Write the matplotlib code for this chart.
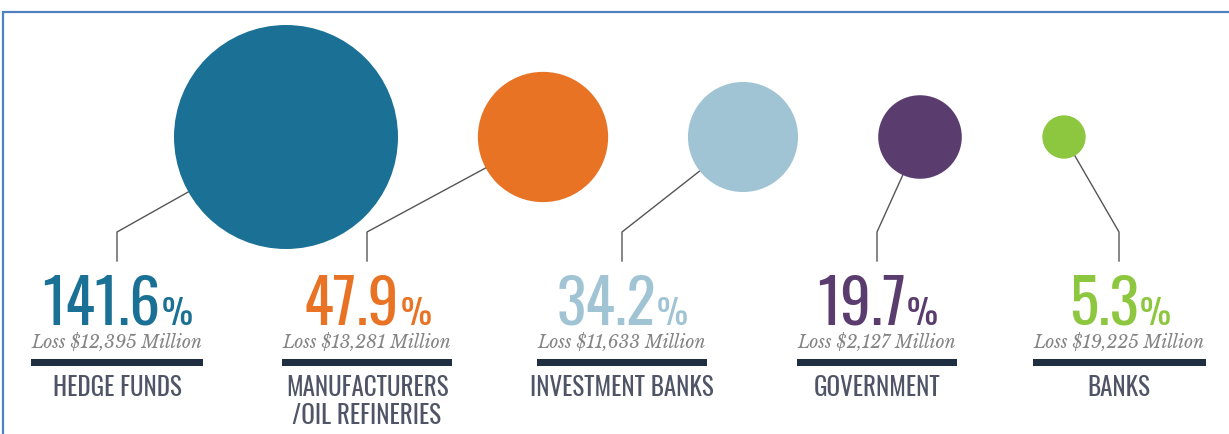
import matplotlib
matplotlib.use("Agg")
import matplotlib.pyplot as plt
from matplotlib.patches import Circle, Rectangle
import numpy as np

# data
categories = ["HEDGE FUNDS", "MANUFACTURERS\n/OIL REFINERIES", "INVESTMENT BANKS",
              "GOVERNMENT", "BANKS"]
pct = [141.6, 47.9, 34.2, 19.7, 5.3]
losses = ["Loss $12,395 Million", "Loss $13,281 Million", "Loss $11,633 Million",
          "Loss $2,127 Million", "Loss $19,225 Million"]
colors = ["#1b7096", "#e87325", "#a1c4d5", "#5a3d6e", "#8dc63f"]

# layout (pixels)
circle_x = [286, 543, 743, 920, 1064]
circle_y = 138
label_x = [117, 367, 622, 877, 1119]
r_max = 112

W, H = 1229, 435
fig = plt.figure(figsize=(W / 100, H / 100), dpi=100)
ax = fig.add_axes([0, 0, 1, 1])
ax.set_xlim(0, W)
ax.set_ylim(H, 0)
ax.axis("off")

cond = ["Oswald", "Liberation Sans", "DejaVu Sans"]
serif = ["Libre Baskerville", "EB Garamond", "Liberation Serif", "DejaVu Serif"]

# frame (top and left blue lines)
ax.plot([2, W], [12.5, 12.5], color="#4f81bd", lw=1.6, solid_capstyle="butt")
ax.plot([2.5, 2.5], [12, H], color="#4f81bd", lw=1.6, solid_capstyle="butt")

fig.canvas.draw()
rend = fig.canvas.get_renderer()

def text_width(t):
    return t.get_window_extent(renderer=rend).width

for i in range(len(pct)):
    r = r_max * np.sqrt(pct[i] / max(pct))
    lx = label_x[i]
    # connector: vertical then diagonal towards the circle centre (circle hides the rest)
    ax.plot([lx, lx, circle_x[i]], [262, 233, circle_y], color="#555555", lw=1.0, zorder=1)
    ax.add_patch(Circle((circle_x[i], circle_y), r, color=colors[i], zorder=2, lw=0))

    # big number + small percent sign, centred on the connector
    num = ax.text(0, 325, f"{pct[i]:.1f}", fontsize=44, fontweight="bold", family=cond,
                  color=colors[i], ha="left", va="baseline")
    sign = ax.text(0, 325, "%", fontsize=25, fontweight="light", family=cond,
                   color=colors[i], ha="left", va="baseline")
    w1 = text_width(num)
    w2 = text_width(sign)
    x0 = lx - (w1 + w2) / 2
    num.set_x(x0)
    sign.set_x(x0 + w1 + 1)

    # loss text
    lt = ax.text(lx, 348, losses[i], fontsize=12.5, style="italic", family=serif,
                 color="#858585", ha="center", va="baseline")
    wl = text_width(lt)
    ax.add_patch(Rectangle((lx - wl / 2 - 1, 360), wl + 2, 7, color="#1f2e40", lw=0))

    # category label, one text per line
    for j, line in enumerate(categories[i].split("\n")):
        ax.text(lx, 396 + 28 * j, line, fontsize=18, fontweight="light", family=cond,
                color="#4f5566", ha="center", va="baseline")

fig.savefig("out.png", dpi=100)
